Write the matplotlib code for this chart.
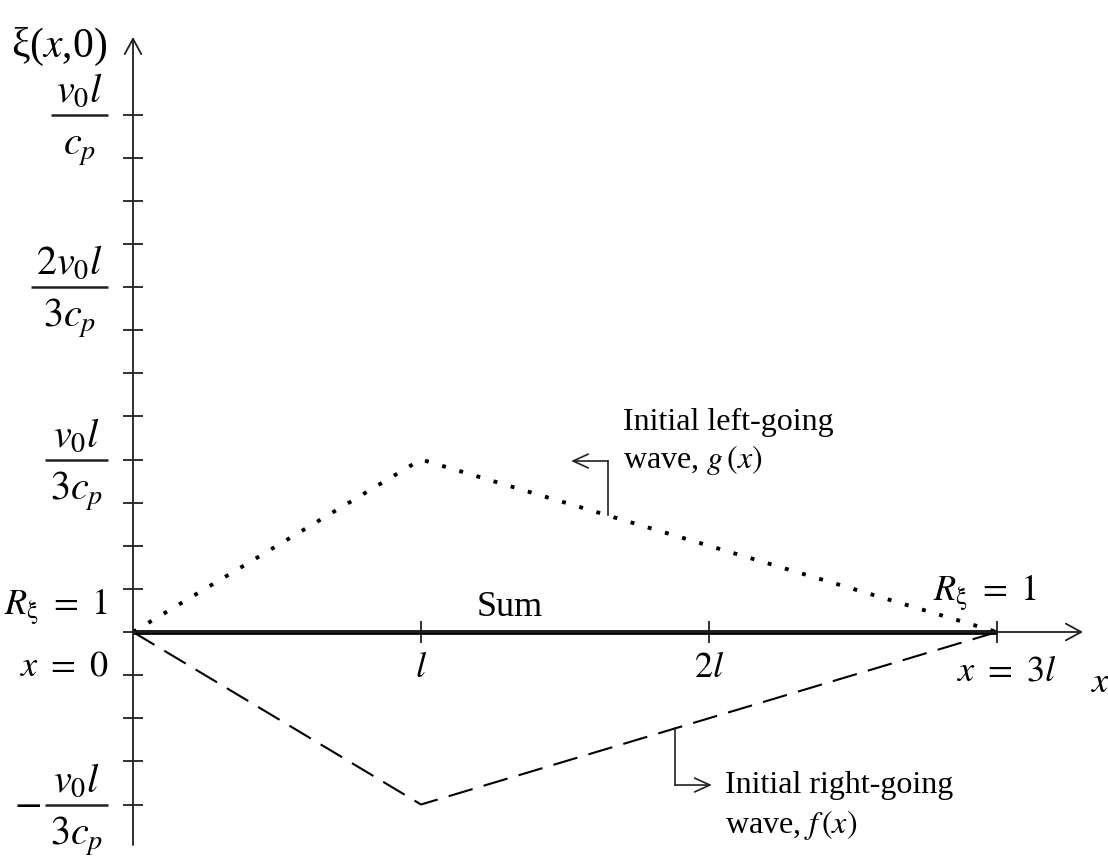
import numpy as np
import matplotlib
matplotlib.use("Agg")
import matplotlib.pyplot as plt

plt.rcParams["font.family"] = ["Liberation Serif", "DejaVu Serif"]
plt.rcParams["mathtext.fontset"] = "stix"

# x in units of l, displacement in units of v0*l/cp
x_pts = [0, 1, 3]
g_vals = [0, 1 / 3, 0]       # initial left-going wave
f_vals = [0, -1 / 3, 0]      # initial right-going wave
sum_vals = list(np.add(g_vals, f_vals))

x_ticks = [1, 2, 3]
x_tick_labels = ["$l$", "$2l$", ""]
y_ticks = np.arange(-4, 13) / 12
y_label_vals = [1, 2 / 3, 1 / 3, -1 / 3]
y_label_num = ["$v_0 l$", "$2v_0 l$", "$v_0 l$", "$v_0 l$"]
y_label_den = ["$c_p$", "$3c_p$", "$3c_p$", "$3c_p$"]
y_label_sign = ["", "", "", "$-$"]

fig = plt.figure(figsize=(11.08, 8.56), dpi=100)
ax = fig.add_axes([0, 0, 1, 1])
ax.set_xlim(-133 / 288, (1108 - 133) / 288)
ax.set_ylim((632 - 856) / 517.5, 632 / 517.5)
ax.axis("off")

lc = "#231f20"
fs = 26
px_x = 1 / 288      # one pixel in x data units
px_y = 1 / 517.5    # one pixel in y data units

# axes with open arrow heads
arrow = dict(arrowstyle="->,head_length=0.55,head_width=0.3", color=lc,
             lw=1.3, shrinkA=0, shrinkB=0, mutation_scale=20)
ax.annotate("", xy=(3.2986, 0), xytext=(0, 0), arrowprops=arrow)
ax.annotate("", xy=(0, 1.1498), xytext=(0, -0.4116), arrowprops=arrow)

# ticks
ax.hlines(y_ticks, -0.0347, 0.0347, color=lc, lw=1.3)
ax.vlines(x_ticks, -0.0213, 0.0213, color=lc, lw=1.3)

# waves
ax.plot(x_pts, g_vals, color="black", lw=2.8, linestyle=(0, (1, 3.6)),
        dash_capstyle="butt")
ax.plot(x_pts, f_vals, color="black", lw=1.5, dashes=(12, 5.5))
ax.plot([x_pts[0], x_pts[-1]], [sum_vals[0], sum_vals[-1]], color="black",
        lw=3.4, solid_capstyle="butt")

# x tick labels
for xv, lab in zip(x_ticks, x_tick_labels):
    ax.text(xv, -0.07, lab, ha="center", va="center", fontsize=fs)

# stacked fraction labels on the y axis
renderer = fig.canvas.get_renderer()
x_right = -25 * px_x
for yv, num, den, sign in zip(y_label_vals, y_label_num, y_label_den, y_label_sign):
    t_num = ax.text(0, yv + 13 * px_y, num, ha="center", va="baseline", fontsize=29)
    t_den = ax.text(0, yv - 40 * px_y, den, ha="center", va="baseline", fontsize=29)
    w = max(t_num.get_window_extent(renderer).width,
            t_den.get_window_extent(renderer).width) + 10
    x_left = x_right - w * px_x
    xc = (x_left + x_right) / 2
    t_num.set_x(xc)
    t_den.set_x(xc)
    ax.plot([x_left, x_right], [yv, yv], color=lc, lw=1.8, solid_capstyle="butt")
    if sign:
        ax.text(x_left - 4 * px_x, yv, sign, ha="right", va="center", fontsize=29)

ax.text(-0.09, 1.13, r"ξ($x$,0)", ha="right", va="center", fontsize=30)
ax.text(3.36, -0.1, r"$x$", ha="center", va="center", fontsize=fs)
ax.text(-0.085, 0.048, r"$R_{\mathrm{\xi}}\ =\ 1$", ha="right", va="center", fontsize=fs)
ax.text(-0.085, -0.068, r"$x\ =\ 0$", ha="right", va="center", fontsize=fs)
ax.text(2.958, 0.075, r"$R_{\mathrm{\xi}}\ =\ 1$", ha="center", va="center", fontsize=fs)
ax.text(3.035, -0.077, r"$x\ =\ 3l$", ha="center", va="center", fontsize=fs)
ax.text(1.194, 0.048, "Sum", ha="left", va="center", fontsize=fs)

# callouts
small_arrow = dict(arrowstyle="->,head_length=0.55,head_width=0.25", color=lc,
                   lw=1.2, shrinkA=0, shrinkB=0, mutation_scale=20)
xg = 1.649
yg = np.interp(xg, x_pts, g_vals)
ax.plot([xg, xg], [yg, 0.3304], color=lc, lw=1.2)
ax.annotate("", xy=(1.521, 0.3304), xytext=(xg, 0.3304), arrowprops=small_arrow)
ax.text(1.701, 0.405, "Initial left-going", ha="left", va="center", fontsize=fs - 3)
ax.text(1.701, 0.333, "wave, $g\\,(x)$", ha="left", va="center", fontsize=fs - 3)

xf = 1.882
yf = np.interp(xf, x_pts, f_vals)
ax.plot([xf, xf], [yf, -0.2957], color=lc, lw=1.2)
ax.annotate("", xy=(2.010, -0.2957), xytext=(xf, -0.2957), arrowprops=small_arrow)
ax.text(2.056, -0.297, "Initial right-going", ha="left", va="center", fontsize=fs - 3)
ax.text(2.056, -0.372, "wave, $f\\,(x)$", ha="left", va="center", fontsize=fs - 3)

fig.savefig("out.png", dpi=100)
